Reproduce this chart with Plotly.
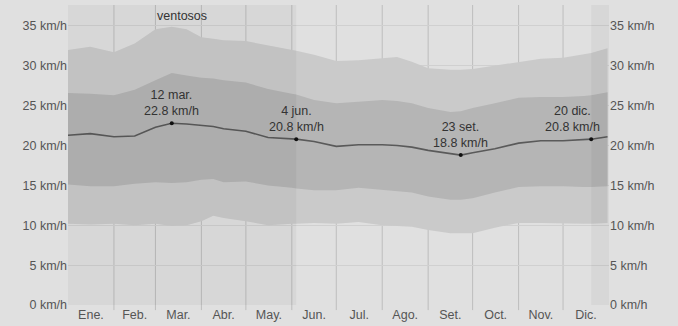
import plotly.graph_objects as go

# Day of year (0 = 1 Jan)
days = [0, 15, 31, 45, 59, 70, 80, 90, 98, 105, 120, 135, 151, 154, 166, 181, 196,
        212, 222, 232, 243, 258, 265, 273, 288, 304, 319, 334, 348, 353, 364]
p90 = [32.0, 32.4, 31.7, 32.8, 34.6, 34.9, 34.6, 33.6, 33.4, 33.2, 33.1, 32.6, 32.0, 31.9, 31.4, 30.6, 30.7,
       31.0, 31.1, 30.5, 29.7, 29.5, 29.5, 29.6, 30.0, 30.5, 30.9, 31.0, 31.4, 31.6, 32.2]
p75 = [26.6, 26.5, 26.3, 27.0, 28.2, 29.1, 28.8, 28.5, 28.4, 28.2, 27.9, 27.1, 26.5, 26.4, 25.7, 25.3, 25.5,
       25.7, 25.6, 25.3, 24.7, 24.2, 24.3, 24.7, 25.3, 26.0, 26.1, 26.1, 26.2, 26.3, 26.7]
avg = [21.3, 21.5, 21.1, 21.2, 22.3, 22.8, 22.7, 22.5, 22.4, 22.1, 21.8, 21.0, 20.9, 20.8, 20.5, 19.9, 20.1,
       20.1, 20.0, 19.8, 19.4, 19.0, 18.8, 19.1, 19.6, 20.3, 20.6, 20.6, 20.7, 20.8, 21.1]
p25 = [15.1, 14.9, 14.9, 15.2, 15.4, 15.3, 15.4, 15.7, 15.8, 15.4, 15.5, 15.0, 14.7, 14.6, 14.4, 14.4, 14.7,
       14.4, 14.3, 14.1, 13.6, 13.2, 13.2, 13.4, 14.1, 14.8, 14.9, 14.9, 14.8, 14.8, 14.9]
p10 = [10.2, 10.1, 10.2, 10.0, 10.2, 9.9, 10.0, 10.5, 11.2, 10.9, 10.5, 10.0, 10.2, 10.2, 10.3, 10.2, 10.4,
       10.0, 9.9, 9.8, 9.4, 9.0, 9.0, 9.0, 9.7, 10.3, 10.3, 10.2, 10.2, 10.2, 10.3]

month_starts = [0, 31, 59, 90, 120, 151, 181, 212, 243, 273, 304, 334, 365]
month_labels = ["Ene.", "Feb.", "Mar.", "Abr.", "May.", "Jun.", "Jul.", "Ago.", "Set.", "Oct.", "Nov.", "Dic."]
month_mids = [(month_starts[i] + month_starts[i + 1]) / 2 for i in range(12)]

y_ticks = [0, 5, 10, 15, 20, 25, 30, 35]
y_labels = [f"{v} km/h" for v in y_ticks]

windy_periods = [(0, 154), (353, 365)]
windy_label = "ventosos"

highlights = [
    (70, 22.8, "12 mar.", "center", 0),
    (154, 20.8, "4 jun.", "center", 0),
    (265, 18.8, "23 set.", "center", 0),
    (353, 20.8, "20 dic.", "right", 11),
]

YMAX = 37.63
font_family = "Liberation Sans, Arial, sans-serif"

fig = go.Figure()
fig.add_trace(go.Scatter(x=days, y=p10, mode="lines", line=dict(width=0), hoverinfo="skip", showlegend=False))
fig.add_trace(go.Scatter(x=days, y=p90, mode="lines", line=dict(width=0), fill="tonexty",
                         fillcolor="#cacaca", hoverinfo="skip", showlegend=False))
fig.add_trace(go.Scatter(x=days, y=p25, mode="lines", line=dict(width=0), hoverinfo="skip", showlegend=False))
fig.add_trace(go.Scatter(x=days, y=p75, mode="lines", line=dict(width=0), fill="tonexty",
                         fillcolor="#b5b5b5", hoverinfo="skip", showlegend=False))
fig.add_trace(go.Scatter(x=days, y=avg, mode="lines", line=dict(color="#5a5a5a", width=1.6),
                         hoverinfo="skip", showlegend=False))
fig.add_trace(go.Scatter(x=[h[0] for h in highlights], y=[h[1] for h in highlights], mode="markers",
                         marker=dict(color="#111111", size=4), hoverinfo="skip", showlegend=False))
fig.add_trace(go.Scatter(x=[0, 365], y=[0, 0], mode="lines", line=dict(width=0), yaxis="y2",
                         hoverinfo="skip", showlegend=False))

for x0, x1 in windy_periods:
    fig.add_shape(type="rect", xref="x", yref="paper", x0=x0, x1=x1, y0=0, y1=1,
                  fillcolor="rgba(0,0,0,0.04)", line=dict(width=0), layer="above")

fig.add_annotation(x=(windy_periods[0][0] + windy_periods[0][1]) / 2, y=1, yref="paper", xref="x",
                   text=windy_label, showarrow=False, yanchor="top", yshift=-2,
                   font=dict(size=12.5, color="#333333", family=font_family))

for x, y, lab, anchor, xs in highlights:
    fig.add_annotation(x=x, y=y, text=f"{lab}<br>{y:.1f} km/h", showarrow=False,
                       xanchor=anchor, xshift=xs, yanchor="bottom", yshift=3,
                       font=dict(size=12.5, color="#333333", family=font_family))

# vertical month gridlines
for m in month_starts[1:-1]:
    fig.add_shape(type="line", xref="x", yref="paper", x0=m, x1=m, y0=-0.017, y1=1,
                  line=dict(color="#bdbdbd", width=1), layer="below")

fig.update_layout(
    width=678, height=326,
    margin=dict(l=68, r=69, t=5, b=21),
    paper_bgcolor="#e0e0e0", plot_bgcolor="#e0e0e0",
    font=dict(family=font_family, size=12.5, color="#555555"),
    xaxis=dict(range=[0, 365], tickvals=month_mids, ticktext=month_labels, showgrid=False,
               zeroline=False, ticks="", showline=False, fixedrange=True, ticklabelstandoff=0),
    yaxis=dict(range=[0, YMAX], tickvals=y_ticks, ticktext=y_labels, showgrid=True,
               gridcolor="#d0d0d0", gridwidth=1, zeroline=False, ticks="", fixedrange=True),
    yaxis2=dict(range=[0, YMAX], tickvals=y_ticks, ticktext=y_labels, overlaying="y", side="right",
                showgrid=False, zeroline=False, ticks="", fixedrange=True),
)

fig.write_html("out.html")
